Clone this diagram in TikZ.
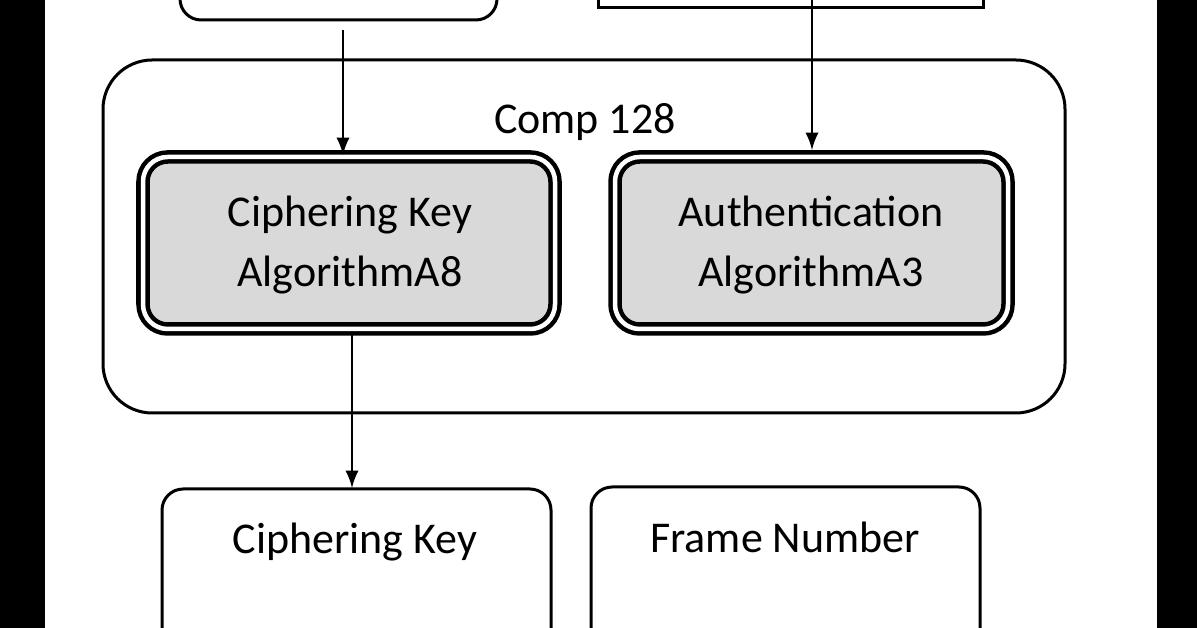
\documentclass[tikz,border=0pt]{standalone}
\usepackage{fontspec}
\setmainfont{Carlito}
\usetikzlibrary{positioning}
\tikzset{
  algoBox/.style={draw, line width=0.45mm, rounded corners=7pt, fill=gray!30, double=white, double distance=0.45mm},
  plainBox/.style={draw, line width=0.3mm, rounded corners=6pt},
  myArrow/.style={-latex, line width=0.25mm},
  lbl/.style={font=\fontsize{12.5}{17}\selectfont, align=center}
}
\begin{document}
\begin{tikzpicture}[x=0.01cm, y=-0.01cm]
\useasboundingbox (0,0) rectangle (1197,628);
\fill[white] (0,0) rectangle (1197,628);

% side bands
\fill[black] (0,0) rectangle (45,628);
\fill[black] (1157,0) rectangle (1197,628);

% top boxes (cut off)
\draw[plainBox] (180,-60) rectangle (497,20);
\draw[line width=0.3mm] (598,-60) rectangle (983,8);

% outer block
\draw[line width=0.3mm, rounded corners=14pt] (103,60) rectangle (1065,413);
\node[lbl] (comp) at (585,122) {Comp 128};

% algorithm boxes
\draw[algoBox] (143,157) rectangle (555,329);
\node[lbl] (cka8) at (350,245) {Ciphering Key\\AlgorithmA8};
\draw[algoBox] (615,157) rectangle (1008,329);
\node[lbl] (aa3) at (811,245) {Authentication\\AlgorithmA3};

% bottom boxes (cut off)
\draw[plainBox] (162,489) rectangle (551,680);
\node[lbl] (ck) at (355,542) {Ciphering Key};
\draw[plainBox] (591,487) rectangle (980,680);
\node[lbl] (fn) at (785,537) {Frame Number};

% arrows
\coordinate (t1) at (343,30);
\coordinate (h1) at (343,155);
\coordinate (t2) at (812,0);
\coordinate (h2) at (812,150);
\coordinate (t3) at (352,332);
\coordinate (h3) at (352,488);
\draw[myArrow] (t1) -- (h1);
\draw[myArrow] (t2) -- (h2);
\draw[myArrow] (t3) -- (h3);
\end{tikzpicture}
\end{document}
